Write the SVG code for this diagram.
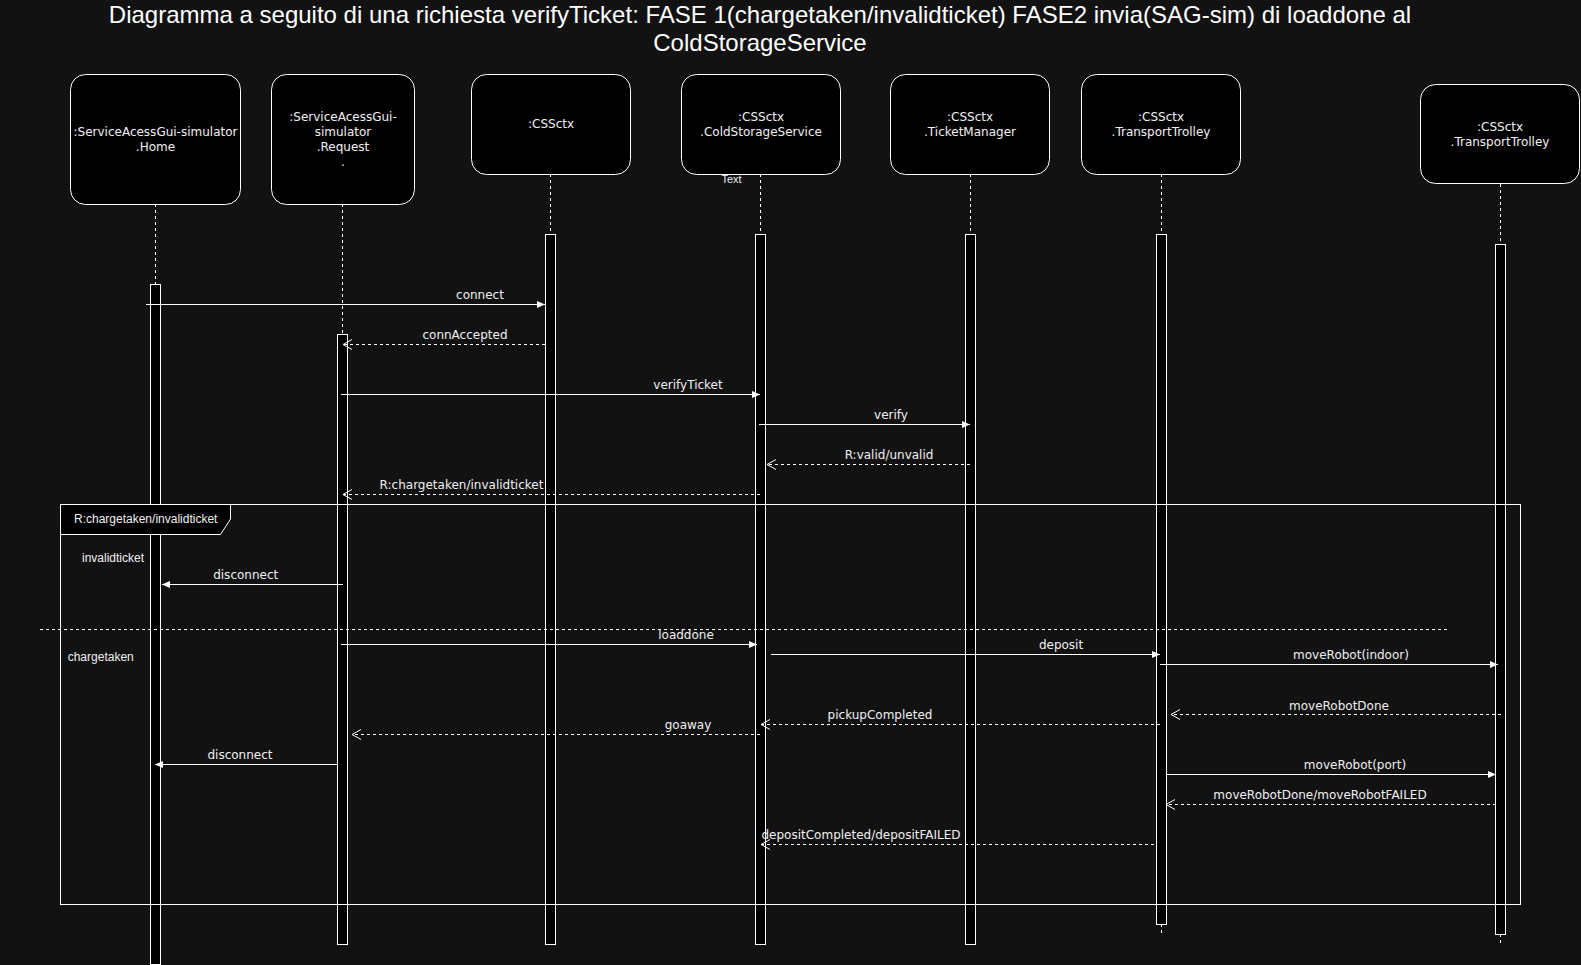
<svg xmlns="http://www.w3.org/2000/svg" width="1581" height="965" viewBox="0 0 1581 965">
<style>
.bg{fill:#121212}
.box{fill:#000;stroke:#fff;stroke-width:1}
.bar{fill:#000;stroke:#fff;stroke-width:1}
.life{stroke:#fff;stroke-width:1;stroke-dasharray:3 3;fill:none}
.nt{font-family:"DejaVu Sans",sans-serif;font-size:12px;fill:#f0f0f0;text-anchor:middle}
.lbl{font-family:"DejaVu Sans",sans-serif;font-size:12px;fill:#f0f0f0;text-anchor:middle}
.ar{font-family:"Liberation Sans",Arial,sans-serif;font-size:12px;fill:#f0f0f0}
.msg{stroke:#fff;stroke-width:1;fill:none;marker-end:url(#block)}
.ret{stroke:#fff;stroke-width:1;fill:none;stroke-dasharray:3 3;marker-end:url(#open)}
.title{font-family:"Liberation Sans",Arial,sans-serif;font-size:24px;fill:#fff;text-anchor:middle}
</style>
<defs>
<marker id="block" markerUnits="userSpaceOnUse" viewBox="0 0 8 7" markerWidth="8" markerHeight="7" refX="8" refY="3.5" orient="auto"><path d="M0,0 L8,3.5 L0,7 Z" fill="#fff"/></marker>
<marker id="open" markerUnits="userSpaceOnUse" viewBox="-1 -1 11 12" markerWidth="11" markerHeight="12" refX="9" refY="5" orient="auto"><path d="M0,0 L9,5 L0,10" fill="none" stroke="#fff" stroke-width="1"/></marker>
</defs>
<rect class="bg" x="0" y="0" width="1581" height="965"/>
<g id="title">
<text class="title" x="760" y="23">Diagramma a seguito di una richiesta verifyTicket: FASE 1(chargetaken/invalidticket) FASE2 invia(SAG-sim) di loaddone al</text>
<text class="title" x="760" y="51">ColdStorageService</text>
</g>
<text class="ar" x="721.5" y="183" style="font-size:11px">Text</text>
<g id="home">
<path class="life" d="M155.5,204 V284"/>
<rect class="bar" x="150.5" y="284.5" width="10" height="680"/>
<rect class="box" x="70.5" y="74.5" width="170" height="130" rx="15"/>
<text class="nt" x="155.5" y="136">:ServiceAcessGui-simulator</text>
<text class="nt" x="155.5" y="151">.Home</text>
</g>
<g id="request">
<path class="life" d="M342.5,204 V334"/>
<rect class="bar" x="337.5" y="334.5" width="10" height="610"/>
<rect class="box" x="271.5" y="74.5" width="143" height="130" rx="15"/>
<text class="nt" x="343" y="121">:ServiceAcessGui-</text>
<text class="nt" x="343" y="136">simulator</text>
<text class="nt" x="343" y="151">.Request</text>
<text class="nt" x="343" y="166">.</text>
</g>
<g id="cssctx">
<path class="life" d="M550.5,174 V234"/>
<rect class="bar" x="545.5" y="234.5" width="10" height="710"/>
<rect class="box" x="471.5" y="74.5" width="159" height="100" rx="15"/>
<text class="nt" x="551" y="128">:CSSctx</text>
</g>
<g id="coldstorage">
<path class="life" d="M760.5,174 V234"/>
<rect class="bar" x="755.5" y="234.5" width="10" height="710"/>
<rect class="box" x="681.5" y="74.5" width="159" height="100" rx="15"/>
<text class="nt" x="761" y="121">:CSSctx</text>
<text class="nt" x="761" y="136">.ColdStorageService</text>
</g>
<g id="ticketmanager">
<path class="life" d="M970.5,174 V234"/>
<rect class="bar" x="965.5" y="234.5" width="10" height="710"/>
<rect class="box" x="890.5" y="74.5" width="159" height="100" rx="15"/>
<text class="nt" x="970" y="121">:CSSctx</text>
<text class="nt" x="970" y="136">.TicketManager</text>
</g>
<g id="trolley1">
<path class="life" d="M1161.5,174 V933"/>
<rect class="bar" x="1156.5" y="234.5" width="10" height="690"/>
<rect class="box" x="1081.5" y="74.5" width="159" height="100" rx="15"/>
<text class="nt" x="1161" y="121">:CSSctx</text>
<text class="nt" x="1161" y="136">.TransportTrolley</text>
</g>
<g id="trolley2">
<path class="life" d="M1500.5,184 V943"/>
<rect class="bar" x="1495.5" y="244.5" width="10" height="690"/>
<rect class="box" x="1420.5" y="84.5" width="159" height="99" rx="15"/>
<text class="nt" x="1500" y="131">:CSSctx</text>
<text class="nt" x="1500" y="146">.TransportTrolley</text>
</g>
<g id="frame">
<rect x="60.5" y="504.5" width="1460" height="400" fill="none" stroke="#fff" stroke-width="1"/>
<path d="M60.5,504.5 H230.5 V519 L220.5,534.5 H60.5 Z" fill="#000" stroke="#fff" stroke-width="1"/>
<text class="ar" x="74" y="523">R:chargetaken/invalidticket</text>
<text class="ar" x="82" y="561.5">invalidticket</text>
<text class="ar" x="67.7" y="661">chargetaken</text>
<path class="life" d="M40,629.5 H1448"/>
</g>
<g id="connectors">
<path class="msg" d="M146,304.5 H545"/>
<text class="lbl" x="480" y="299">connect</text>
<path class="ret" d="M545,344.5 H343"/>
<text class="lbl" x="465" y="339">connAccepted</text>
<path class="msg" d="M341,394.5 H760"/>
<text class="lbl" x="688" y="389">verifyTicket</text>
<path class="msg" d="M759,424.5 H970"/>
<text class="lbl" x="891" y="418.5">verify</text>
<path class="ret" d="M970,464.5 H767"/>
<text class="lbl" x="889" y="458.5">R:valid/unvalid</text>
<path class="ret" d="M760,494.5 H343"/>
<text class="lbl" x="461.5" y="489">R:chargetaken/invalidticket</text>
<path class="msg" d="M343,584.5 H162"/>
<text class="lbl" x="245.7" y="579">disconnect</text>
<path class="msg" d="M341,644.5 H757"/>
<text class="lbl" x="686" y="639">loaddone</text>
<path class="msg" d="M771,654.5 H1160"/>
<text class="lbl" x="1061" y="649">deposit</text>
<path class="msg" d="M1160,664.5 H1498"/>
<text class="lbl" x="1351" y="659">moveRobot(indoor)</text>
<path class="ret" d="M1501,714.5 H1171"/>
<text class="lbl" x="1339" y="709.5">moveRobotDone</text>
<path class="ret" d="M1160,724.5 H761"/>
<text class="lbl" x="880" y="718.5">pickupCompleted</text>
<path class="ret" d="M760,734.5 H352"/>
<text class="lbl" x="688" y="728.5">goaway</text>
<path class="msg" d="M337,764.5 H155"/>
<text class="lbl" x="240" y="758.5">disconnect</text>
<path class="msg" d="M1166,774.5 H1496"/>
<text class="lbl" x="1355" y="768.5">moveRobot(port)</text>
<path class="ret" d="M1496,804.5 H1166"/>
<text class="lbl" x="1320" y="798.5">moveRobotDone/moveRobotFAILED</text>
<path class="ret" d="M1154,844.5 H761"/>
<text class="lbl" x="861" y="838.5">depositCompleted/depositFAILED</text>
</g>
</svg>
